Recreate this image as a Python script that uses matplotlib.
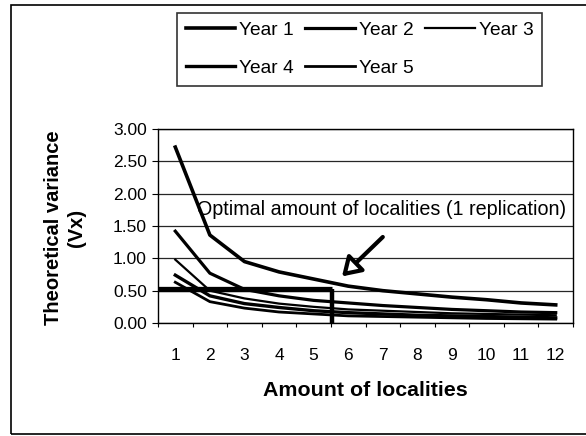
import matplotlib
matplotlib.use("Agg")
import matplotlib.pyplot as plt
from matplotlib.patches import Rectangle

plt.rcParams['font.family'] = ['Liberation Sans', 'DejaVu Sans']

# values
localities = list(range(1, 13))
year1 = [2.72, 1.36, 0.95, 0.79, 0.68, 0.57, 0.50, 0.45, 0.40, 0.36, 0.31, 0.28]
year2 = [1.42, 0.77, 0.52, 0.42, 0.35, 0.31, 0.27, 0.24, 0.21, 0.19, 0.17, 0.16]
year3 = [0.98, 0.50, 0.38, 0.30, 0.25, 0.21, 0.19, 0.17, 0.15, 0.14, 0.13, 0.12]
year4 = [0.74, 0.42, 0.30, 0.24, 0.19, 0.16, 0.14, 0.12, 0.11, 0.10, 0.09, 0.08]
year5 = [0.63, 0.33, 0.23, 0.17, 0.14, 0.11, 0.10, 0.09, 0.08, 0.07, 0.065, 0.06]
series = [year1, year2, year3, year4, year5]
labels = ['Year 1', 'Year 2', 'Year 3', 'Year 4', 'Year 5']
widths = [2.6, 2.3, 1.6, 2.4, 2.0]

optimum_x = 5.53      # optimal amount of localities
optimum_y = 0.53
yticks = [0.0, 0.5, 1.0, 1.5, 2.0, 2.5, 3.0]

W, H = 586, 436
fig = plt.figure(figsize=(W / 100, H / 100), dpi=100)
ax = fig.add_axes([158 / W, 1 - 323 / H, (573 - 158) / W, (323 - 129) / H])

for y in yticks:
  ax.axhline(y, color='0.15', lw=0.9, zorder=1)

handles = []
for vals, lab, lw in zip(series, labels, widths):
  h, = ax.plot(localities, vals, color='black', lw=lw, label=lab, zorder=3)
  handles.append(h)

# optimum marker lines
ax.plot([0.5, optimum_x], [optimum_y, optimum_y], color='black', lw=3.8, zorder=4, solid_capstyle='butt')
ax.plot([optimum_x, optimum_x], [0, optimum_y], color='black', lw=3.2, zorder=4, solid_capstyle='butt')

ax.text(1.63, 1.75, 'Optimal amount of localities (1 replication)', fontsize=14.2, va='center', ha='left', zorder=5)
ax.annotate('', xy=(5.82, 0.72), xytext=(7.0, 1.33),
            arrowprops=dict(arrowstyle='-|>,head_length=1.1,head_width=0.7', lw=3,
                            fc='white', ec='black', shrinkA=0, shrinkB=0), zorder=5)

ax.set_xlim(0.5, 12.5)
ax.set_ylim(0, 3.0)
ax.set_xticks([x + 0.5 for x in range(0, 13)])
ax.set_xticklabels([])
ax.set_xticks(localities, minor=True)
ax.set_xticklabels([str(x) for x in localities], minor=True, fontsize=12.5)
ax.tick_params(axis='x', which='minor', length=0, pad=18)
ax.tick_params(axis='x', which='major', length=3, direction='out')
ax.set_yticks(yticks)
ax.set_yticklabels([f'{y:.2f}' for y in yticks], fontsize=12.5)
ax.tick_params(axis='y', length=4, direction='out', pad=4)
for s in ax.spines.values():
  s.set_linewidth(1.0)

fig.text(365 / W, 1 - 390 / H, 'Amount of localities', fontsize=15.4, fontweight='bold', ha='center', va='center')
fig.text(65 / W, 1 - 228 / H, 'Theoretical variance\n(Vx)', fontsize=14.5, fontweight='bold',
         rotation=90, ha='center', va='center', multialignment='center', linespacing=1.25)

# legend filled row by row like the original
order = [0, 3, 1, 4, 2]
leg = fig.legend([handles[i] for i in order], [labels[i] for i in order],
                 loc='upper left', bbox_to_anchor=(177 / W, 1 - 13 / H), ncol=3, fontsize=13.8,
                 frameon=True, fancybox=False, edgecolor='black', handlelength=2.6, handletextpad=0.2,
                 columnspacing=0.6, labelspacing=1.07, borderpad=0.45, borderaxespad=0)
leg.get_frame().set_linewidth(1.2)

fig.patches.append(Rectangle((11 / W, 1 - 434 / H), 1.2, (434 - 5) / H, transform=fig.transFigure,
                             fill=False, ec='black', lw=1.2))

fig.savefig('out.png', dpi=100)
